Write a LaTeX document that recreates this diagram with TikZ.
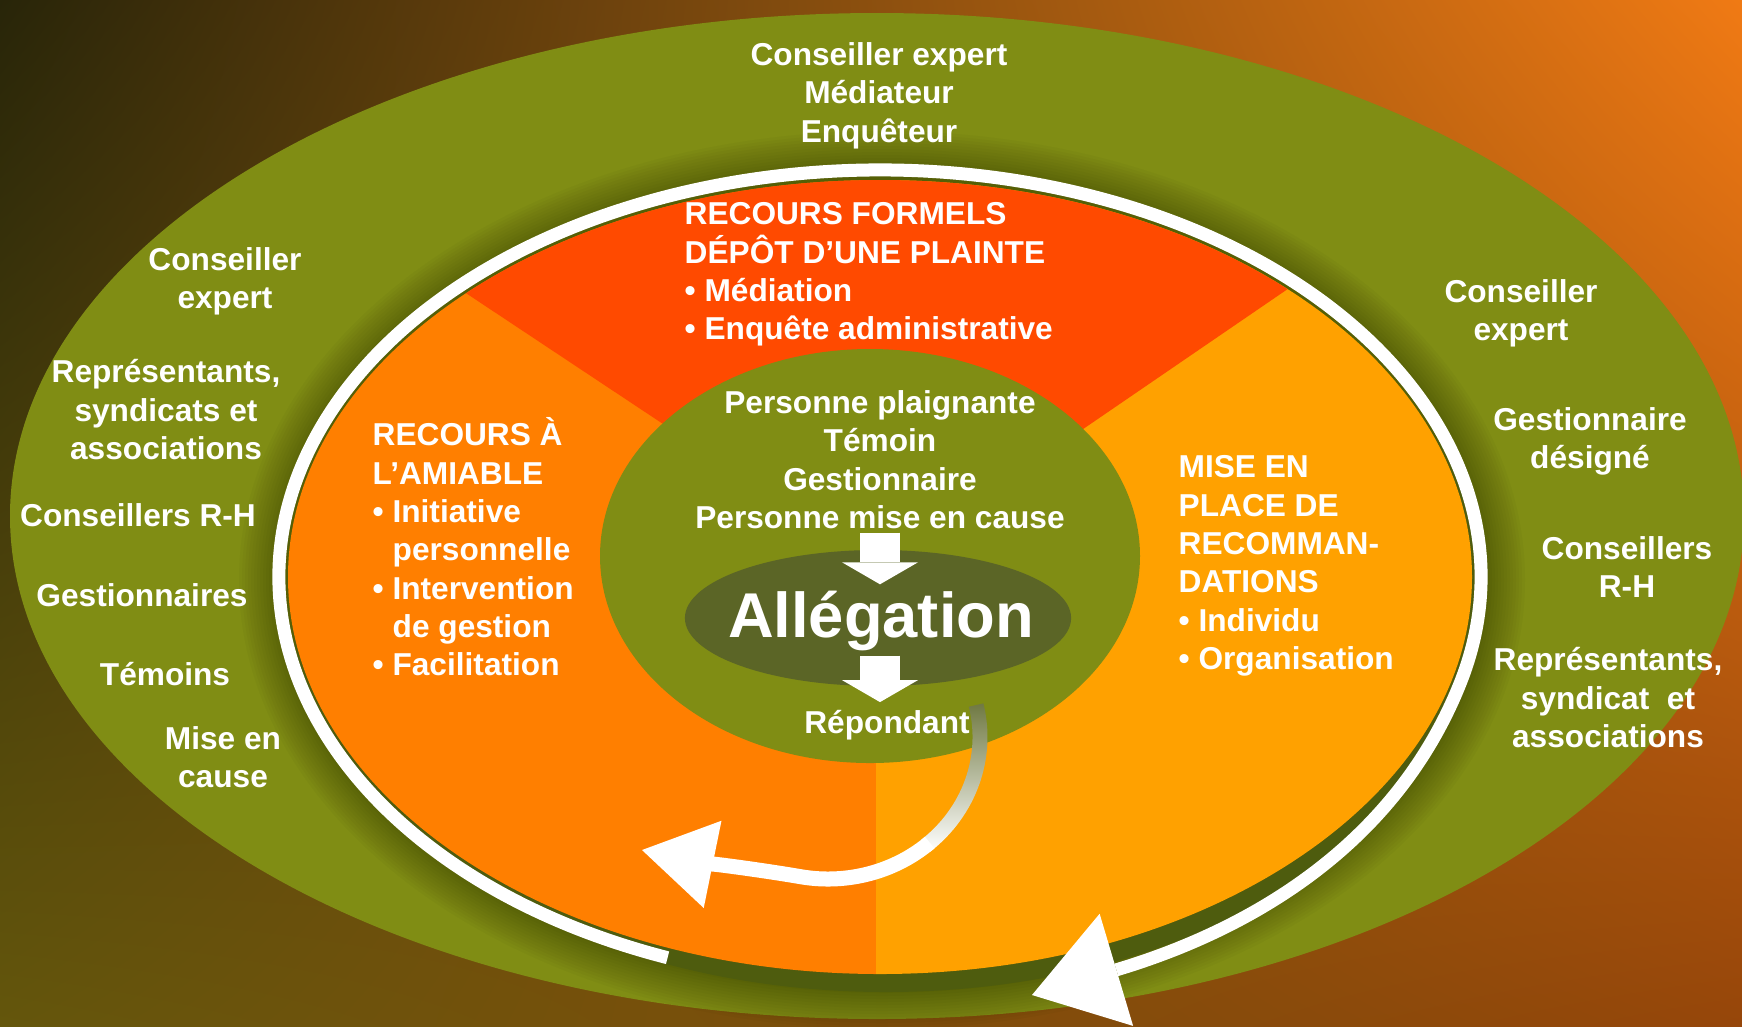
\documentclass[tikz,border=0pt]{standalone}
\usepackage{fontspec}
\setmainfont{Liberation Sans}
\usetikzlibrary{arrows.meta,shapes.geometric,shadings}
\definecolor{bgul}{RGB}{40,37,9}
\definecolor{bgur}{RGB}{240,122,20}
\definecolor{bgll}{RGB}{100,86,12}
\definecolor{bglr}{RGB}{150,70,10}
\definecolor{ringgreen}{RGB}{128,141,20}
\definecolor{shadowgreen}{RGB}{78,92,14}
\definecolor{allgreen}{RGB}{91,101,38}
\definecolor{formred}{RGB}{255,74,0}
\definecolor{amiorange}{RGB}{255,127,0}
\definecolor{recamber}{RGB}{255,161,0}
\definecolor{arrgray}{RGB}{112,121,66}
\newcommand{\bulind}{\hspace*{0.2cm}}

\begin{document}
\begin{tikzpicture}[x=0.01cm,y=-0.01cm,
	lbl/.style={text=white,font=\fontsize{9}{10.9}\selectfont\bfseries,align=center,anchor=north},
	lbll/.style={lbl,align=left,anchor=north west},
	bigtxt/.style={text=white,font=\fontsize{18}{21}\selectfont\bfseries},
	blockarr/.style={white,line width=0.4cm,-{Triangle[length=0.22cm,width=0.76cm,line width=0pt]}},
	ring/.style={white,line width=1.3mm}]
	\tikzstyle{every node}+=[inner sep=0pt]
	\useasboundingbox (0,0) rectangle (1742,1026);
	\shade[upper left=bgul,upper right=bgur,lower left=bgll,lower right=bglr] (0,0) rectangle (1742,1026);
	\fill[ringgreen] (877,516) ellipse [x radius=867, y radius=503];
	\foreach \k in {1,...,14}
		\fill[black,opacity=0.022] (882,580) ellipse [x radius=601+3*\k, y radius=407+3*\k];
	\fill[shadowgreen] (886,592) ellipse [x radius=596, y radius=400];
	\begin{scope}
		\clip (880,577) ellipse [x radius=592, y radius=397];
		\fill[amiorange] (200,100) rectangle (876,1000);
		\fill[recamber] (876,100) rectangle (1500,1000);
		\fill[formred] (880,568) -- (-200,-149) -- (1960,-171) -- cycle;
	\end{scope}
	\fill[ringgreen] (870,556) ellipse [x radius=270, y radius=207];
	\node[ellipse,fill=allgreen,minimum width=3.86cm,minimum height=1.36cm] (allg) at (878,618) {};
	\node[bigtxt,anchor=base] (allgtxt) at (881,637) {Allégation};
	\node[lbl] (inner) at (880,390) {Personne plaignante\\Témoin\\Gestionnaire\\Personne mise en cause};
	\node[lbl,anchor=base] (resp) at (887,733) {Répondant};
	\draw[blockarr] ([yshift=-0.03cm]inner.south) -- ([yshift=-0.35cm]inner.south |- allg.north);
	\draw[blockarr] ([yshift=0.31cm]inner.south |- allg.south) -- ([yshift=0.07cm]inner.south |- resp.north);
	\node[lbl] (topexp) at (879,42) {Conseiller expert\\Médiateur\\Enquêteur};
	\node[lbl] (lexp) at (225,247) {Conseiller\\expert};
	\node[lbl] (lrep) at (166,359) {Représentants,\\syndicats et\\associations};
	\node[lbl] (lrh) at (138,503) {Conseillers R-H};
	\node[lbl] (lgest) at (142,583) {Gestionnaires};
	\node[lbl] (ltem) at (165,662) {Témoins};
	\node[lbl] (lmise) at (223,726) {Mise en\\cause};
	\node[lbl] (rexp) at (1521,279) {Conseiller\\expert};
	\node[lbl] (rgest) at (1590,407) {Gestionnaire\\désigné};
	\node[lbl] (rrh) at (1627,536) {Conseillers\\R-H};
	\node[lbl] (rrep) at (1608,647) {Représentants,\\syndicat\ \ et\\associations};
	\node[lbll] (formel) at (684,202) {RECOURS FORMELS\\DÉPÔT D’UNE PLAINTE\\• Médiation\\• Enquête administrative};
	\node[lbll] (amiable) at (372,417) {RECOURS À\\L’AMIABLE\\• Initiative\\\bulind personnelle\\• Intervention\\\bulind de gestion\\• Facilitation};
	\node[lbll] (reco) at (1178,455) {MISE EN\\PLACE DE\\RECOMMAN-\\DATIONS\\• Individu\\• Organisation};
	\coordinate (ringtip) at (1032,995);
	\draw[ring,-{Triangle[length=0.88cm,width=1.17cm,line width=0pt]}] (880,577) ++(110.7:601 and 407) arc[start angle=110.7, end angle=375, x radius=601, y radius=407] .. controls (1394,850) and (1243,932) .. (ringtip);
	\coordinate (rtip) at (642,850);
	\shade[top color=arrgray,middle color=white!55!arrgray,bottom color=white] (828,737) ++(-13:159.5 and 149.5) arc[start angle=-13, end angle=50, x radius=159.5, y radius=149.5] -- (920.9,840) arc[start angle=50, end angle=-13, x radius=144.5, y radius=134.5] -- cycle;
	\draw[line width=1.5mm,white,-{Triangle[length=0.72cm,width=0.89cm,line width=0pt]}] (828,737) ++(48:152 and 142) arc[start angle=48, end angle=100, x radius=152, y radius=142] .. controls (762,870) and (701,862) .. (rtip);
\end{tikzpicture}
\end{document}
